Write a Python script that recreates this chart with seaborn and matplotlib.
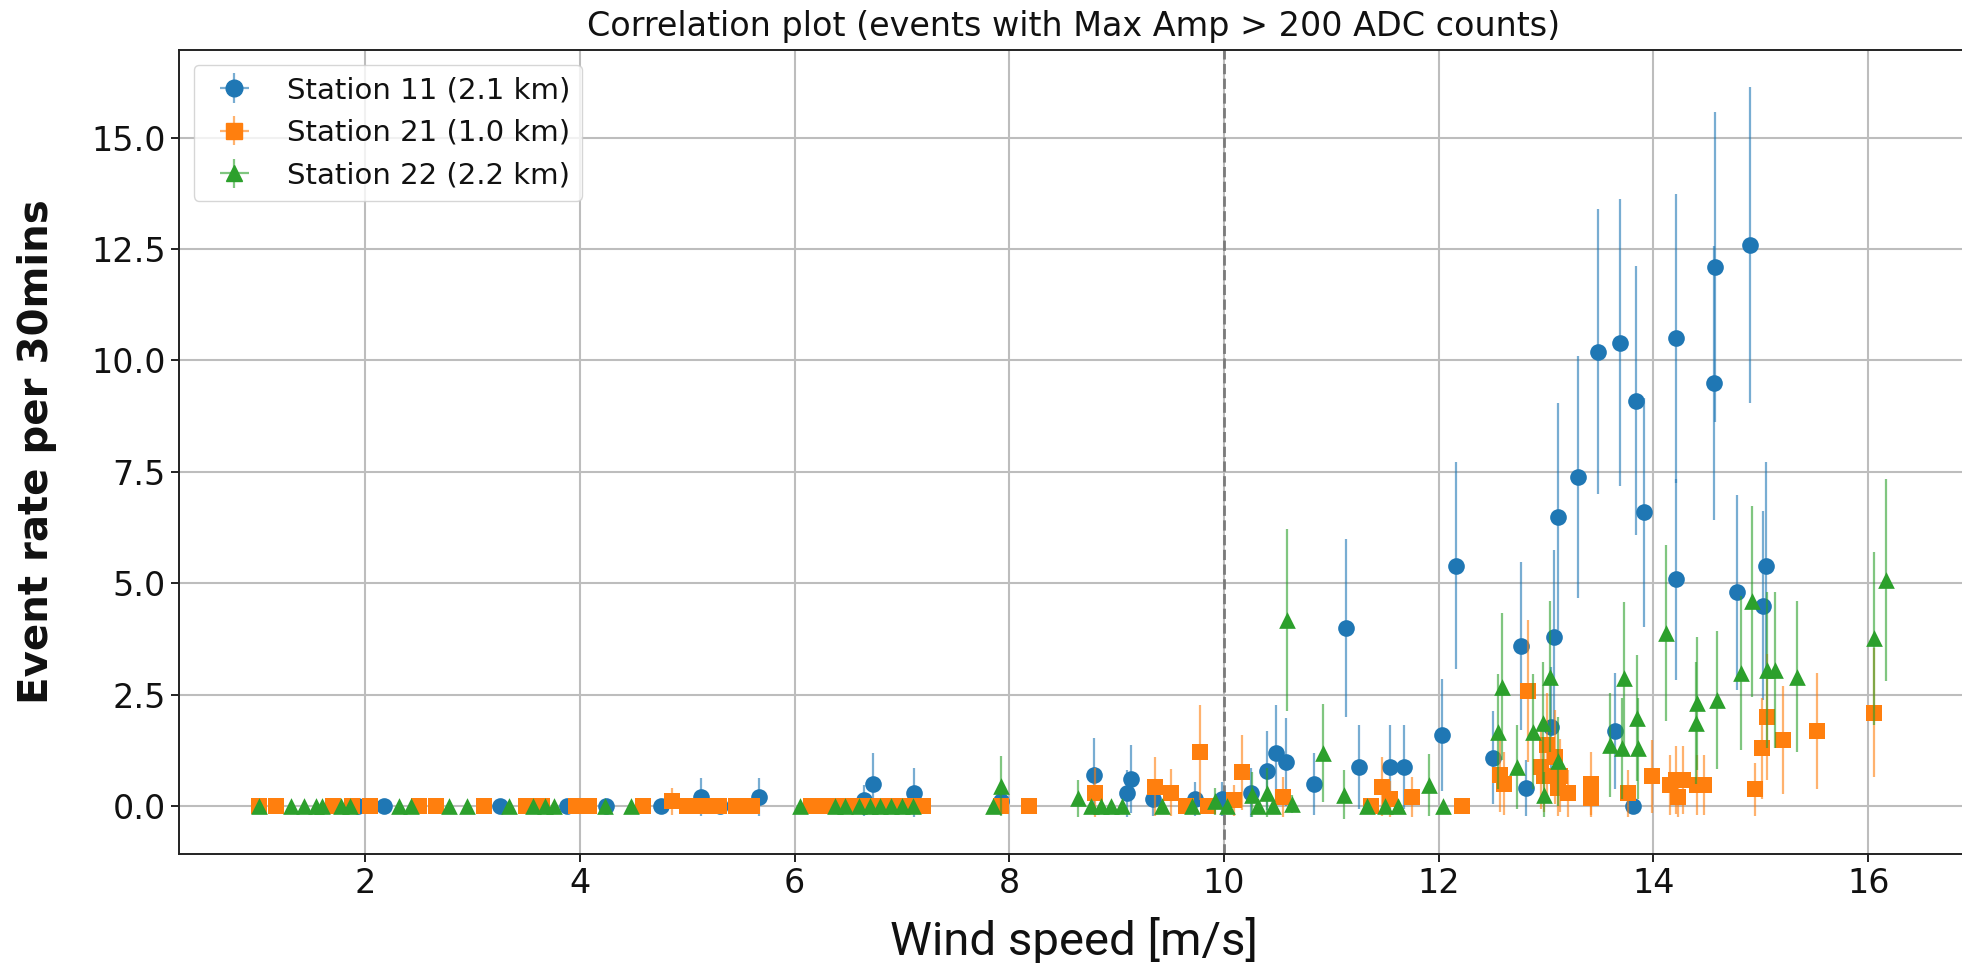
import numpy as np
import matplotlib
matplotlib.use("Agg")
import matplotlib.pyplot as plt
import seaborn as sns

# ---------------- data ----------------
labels = ["Station 11 (2.1 km)", "Station 21 (1.0 km)", "Station 22 (2.2 km)"]

s11_x = [1.93, 2.18, 3.26, 3.88, 4.24, 4.76, 5.13, 5.31, 5.67, 6.65, 6.73, 7.11, 7.92,
         8.79, 9.10, 9.13, 9.34, 9.73, 9.98, 10.25, 10.40, 10.48, 10.58, 10.84, 11.14,
         11.26, 11.55, 11.68, 12.03, 12.16, 12.51, 12.77, 12.81, 13.05, 13.07, 13.11,
         13.30, 13.48, 13.64, 13.69, 13.81, 13.84, 13.91, 14.21, 14.21, 14.56, 14.57,
         14.78, 14.90, 15.02, 15.05]
s11_y = [0, 0, 0, 0, 0, 0, 0.2, 0, 0.2, 0.13, 0.49, 0.3, 0.1,
         0.69, 0.28, 0.6, 0.15, 0.15, 0.15, 0.3, 0.79, 1.18, 0.98, 0.49, 3.99,
         0.88, 0.88, 0.88, 1.59, 5.39, 1.08, 3.59, 0.40, 1.78, 3.79, 6.49,
         7.39, 10.2, 1.69, 10.4, 0, 9.1, 6.59, 10.5, 5.09, 9.49, 12.1,
         4.8, 12.6, 4.49, 5.39]
s11_e = [0, 0, 0, 0, 0, 0, 0.42, 0, 0.42, 0.35, 0.7, 0.55, 0.3,
         0.83, 0.53, 0.77, 0.38, 0.38, 0.38, 0.55, 0.89, 1.09, 0.99, 0.7, 2.0,
         0.94, 0.94, 0.94, 1.26, 2.32, 1.04, 1.89, 0.63, 1.33, 1.95, 2.55,
         2.72, 3.19, 1.3, 3.22, 0, 3.02, 2.57, 3.24, 2.26, 3.08, 3.48,
         2.19, 3.55, 2.12, 2.32]

s21_x = [1.01, 1.17, 1.70, 1.88, 2.05, 2.50, 2.66, 3.11, 3.50, 3.65, 3.96, 4.09, 4.59,
         4.86, 5.00, 5.15, 5.30, 5.45, 5.60, 6.15, 6.30, 6.45, 6.60, 6.75, 6.90, 7.05,
         7.20, 7.92, 8.18, 8.80, 9.36, 9.51, 9.65, 9.78, 9.85, 10.09, 10.17, 10.55,
         11.37, 11.47, 11.55, 11.75, 12.22, 12.57, 12.61, 12.83, 12.95, 12.98, 13.01,
         13.08, 13.11, 13.13, 13.20, 13.42, 13.42, 13.76, 13.99, 14.15, 14.21, 14.23,
         14.28, 14.41, 14.47, 14.95, 15.01, 15.06, 15.21, 15.52, 16.05]
s21_y = [0, 0, 0, 0, 0, 0, 0, 0, 0, 0, 0, 0, 0,
         0.1, 0, 0, 0, 0, 0, 0, 0, 0, 0, 0, 0, 0,
         0, 0, 0, 0.3, 0.43, 0.3, 0, 1.2, 0, 0.13, 0.75, 0.2,
         0, 0.43, 0.15, 0.2, 0, 0.7, 0.5, 2.58, 0.88, 0.66, 1.37,
         1.1, 0.4, 0.68, 0.28, 0.5, 0.18, 0.28, 0.67, 0.47, 0.58, 0.21,
         0.58, 0.47, 0.47, 0.37, 1.29, 1.99, 1.48, 1.69, 2.09]
s21_e = [0, 0, 0, 0, 0, 0, 0, 0, 0, 0, 0, 0, 0,
         0.3, 0, 0, 0, 0, 0, 0, 0, 0, 0, 0, 0, 0,
         0, 0, 0, 0.55, 0.66, 0.52, 0, 1.07, 0, 0.35, 0.84, 0.45,
         0, 0.66, 0.4, 0.45, 0, 0.84, 0.7, 1.6, 0.94, 0.8, 1.17,
         1.05, 0.63, 0.82, 0.53, 0.7, 0.42, 0.53, 0.82, 0.68, 0.76, 0.46,
         0.76, 0.68, 0.68, 0.6, 1.13, 1.41, 1.22, 1.3, 1.45]

s22_x = [1.01, 1.31, 1.43, 1.54, 1.60, 1.78, 1.86, 2.32, 2.43, 2.78, 2.95, 3.34, 3.56,
         3.68, 3.76, 4.23, 4.48, 6.05, 6.38, 6.47, 6.60, 6.70, 6.80, 6.90, 7.00, 7.10,
         7.85, 7.92, 8.64, 8.76, 8.85, 8.95, 9.05, 9.42, 9.70, 9.92, 10.03, 10.26,
         10.32, 10.40, 10.46, 10.59, 10.63, 10.92, 11.12, 11.33, 11.50, 11.62, 11.91,
         12.04, 12.55, 12.59, 12.73, 12.88, 12.97, 12.98, 13.04, 13.11, 13.60, 13.71,
         13.73, 13.85, 13.86, 14.12, 14.40, 14.41, 14.59, 14.82, 14.92, 15.06, 15.13,
         15.34, 16.05, 16.17]
s22_y = [0, 0, 0, 0, 0, 0, 0, 0, 0, 0, 0, 0, 0,
         0, 0, 0, 0, 0, 0, 0, 0, 0, 0, 0, 0, 0,
         0, 0.45, 0.17, 0, 0, 0, 0, 0, 0, 0.1, 0, 0.25,
         0, 0.3, 0, 4.17, 0.05, 1.18, 0.25, 0, 0, 0, 0.47,
         0, 1.67, 2.68, 0.88, 1.67, 1.86, 0.25, 2.9, 1.0, 1.37, 1.29,
         2.88, 1.97, 1.29, 3.88, 1.86, 2.30, 2.38, 2.98, 4.59, 3.05, 3.05,
         2.9, 3.76, 5.07]
s22_e = [0, 0, 0, 0, 0, 0, 0, 0, 0, 0, 0, 0, 0,
         0, 0, 0, 0, 0, 0, 0, 0, 0, 0, 0, 0, 0,
         0, 0.67, 0.41, 0, 0, 0, 0, 0, 0, 0.3, 0, 0.5,
         0, 0.55, 0, 2.05, 0.2, 1.1, 0.55, 0, 0, 0, 0.7,
         0, 1.3, 1.65, 0.94, 1.3, 1.36, 0.5, 1.7, 1.0, 1.17, 1.13,
         1.7, 1.42, 1.13, 1.98, 1.37, 1.5, 1.55, 1.73, 2.14, 1.75, 1.75,
         1.7, 1.95, 2.27]

x_ticks = [2, 4, 6, 8, 10, 12, 14, 16]
y_ticks = [0.0, 2.5, 5.0, 7.5, 10.0, 12.5, 15.0]
threshold_wind = 10.0

# ---------------- style ----------------
sns.set_theme(style="whitegrid")
plt.rcParams["font.family"] = ["DejaVu Sans"]

colors = sns.color_palette("tab10", 3)
markers = ["o", "s", "^"]
series = [(s11_x, s11_y, s11_e), (s21_x, s21_y, s21_e), (s22_x, s22_y, s22_e)]

W, H = 1962, 963
fig = plt.figure(figsize=(W / 100, H / 100), dpi=100)
ax = fig.add_axes([179 / W, 1 - 854 / H, 1789 / W, 804 / H])
ax.set_facecolor("white")

ms = 12
for i, ((xs, ys, es), c, m, lab) in enumerate(zip(series, colors, markers, labels)):
    ecol = (c[0], c[1], c[2], 0.6)
    ax.errorbar(xs, ys, yerr=es, fmt="none", ecolor=ecol, elinewidth=1.6,
                zorder=3 + 2 * i)
    sns.scatterplot(x=xs, y=ys, marker=m, color=c, s=ms ** 2, linewidth=0,
                    ax=ax, zorder=4 + 2 * i, legend=False)
    # legend proxy with errorbar-style handle
    ax.errorbar([np.nan], [np.nan], yerr=[1], xerr=[1], fmt=m, color=c,
                ecolor=ecol, elinewidth=1.6, ms=ms, label=lab)

ax.axvline(threshold_wind, color="#7a7a7a", ls="--", lw=2.0, zorder=2)

ax.set_xlim(0.2665, 16.93)
ax.set_ylim(-1.08, 16.97)
ax.set_xticks(x_ticks)
ax.set_yticks(y_ticks)
ax.set_yticklabels([f"{v:.1f}" for v in y_ticks])

ax.grid(True, color="#bdbdbd", lw=1.5)
ax.set_axisbelow(True)
for side in ["left", "bottom", "top", "right"]:
    ax.spines[side].set_color("#222222")
    ax.spines[side].set_linewidth(1.4)
ax.tick_params(axis="both", which="major", labelsize=24, length=6, width=1.4,
               color="#222222", labelcolor="#111111", bottom=True, left=True)

ax.set_title("Correlation plot (events with Max Amp > 200 ADC counts)",
             fontsize=24, color="#111111", pad=10)
ax.set_xlabel("Wind speed [m/s]", fontsize=34, family=["Roboto", "DejaVu Sans"],
              color="#111111", labelpad=12)
ax.set_ylabel("Event rate per 30mins", fontsize=29, fontweight="bold",
              color="#111111")
ax.yaxis.set_label_coords(-0.068, 0.5)

leg = ax.legend(loc="upper left", fontsize=21, frameon=True, framealpha=0.8,
                edgecolor="#cccccc", fancybox=True)
for t in leg.get_texts():
    t.set_color("#111111")

fig.savefig("out.png", dpi=100)
